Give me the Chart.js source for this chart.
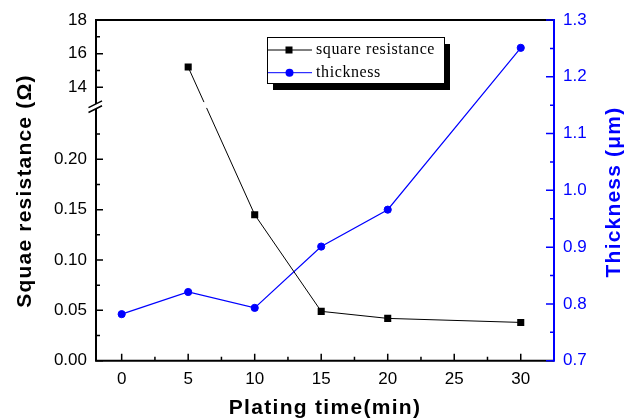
<!DOCTYPE html>
<html>
<head>
<meta charset="utf-8">
<script src="https://cdn.jsdelivr.net/npm/chart.js@4.4.1/dist/chart.umd.min.js"></script>
<style>
  html, body { margin: 0; padding: 0; background: #ffffff; }
  canvas { display: block; }
</style>
</head>
<body>
<canvas id="c" width="635" height="419"></canvas>
<script>
// ---------------- data ----------------
const timeMin = [0, 5, 10, 15, 20, 30];
const squareResistance = [null, 15.2, 0.145, 0.049, 0.042, 0.038];
const thickness = [0.782, 0.821, 0.793, 0.901, 0.966, 1.251];

const seriesLabels = ['square resistance', 'thickness'];
const xTitle = 'Plating time(min)';
const yTitle = 'Squae resistance (\u03A9)';
const y2Title = 'Thickness (\u03BCm)';

const xMajor = [0, 5, 10, 15, 20, 25, 30];
const xMinor = [2.5, 7.5, 12.5, 17.5, 22.5, 27.5];
const yMajorLow = [0, 0.05, 0.10, 0.15, 0.20];
const yMinorLow = [0.025, 0.075, 0.125, 0.175, 0.225];
const yMajorHigh = [14, 16, 18];
const yMinorHigh = [15, 17];
const y2Major = [0.7, 0.8, 0.9, 1.0, 1.1, 1.2, 1.3];
const y2Minor = [0.75, 0.85, 0.95, 1.05, 1.15, 1.25];

// broken axis: lower segment 0..0.25, upper segment 13..18
const lowSeg = [0, 0.25];
const highSeg = [13, 18];
const segFrac = [0.739, 0.7532]; // fraction of height where lower ends / upper begins

const BLUE = '#0000ff';

// ---------------- broken scale ----------------
function brokenFrac(v) {
  if (v <= lowSeg[1]) return (v - lowSeg[0]) / (lowSeg[1] - lowSeg[0]) * segFrac[0];
  if (v >= highSeg[0]) return segFrac[1] + (v - highSeg[0]) / (highSeg[1] - highSeg[0]) * (1 - segFrac[1]);
  return segFrac[0] + (v - lowSeg[1]) / (highSeg[0] - lowSeg[1]) * (segFrac[1] - segFrac[0]);
}
function brokenValue(f) {
  if (f <= segFrac[0]) return lowSeg[0] + f / segFrac[0] * (lowSeg[1] - lowSeg[0]);
  if (f >= segFrac[1]) return highSeg[0] + (f - segFrac[1]) / (1 - segFrac[1]) * (highSeg[1] - highSeg[0]);
  return lowSeg[1] + (f - segFrac[0]) / (segFrac[1] - segFrac[0]) * (highSeg[0] - lowSeg[1]);
}
class BrokenScale extends Chart.LinearScale {
  buildTicks() {
    return yMajorLow.concat(yMajorHigh).map(v => ({ value: v }));
  }
  getPixelForValue(value) {
    return this.bottom - brokenFrac(value) * (this.bottom - this.top);
  }
  getValueForPixel(pixel) {
    return brokenValue((this.bottom - pixel) / (this.bottom - this.top));
  }
}
BrokenScale.id = 'broken';
BrokenScale.defaults = Chart.LinearScale.defaults;
Chart.register(BrokenScale);

// ---------------- plugin: axes, ticks, break, titles, legend ----------------
function drawSpaced(ctx, text, spacing) {
  if ('letterSpacing' in ctx) ctx.letterSpacing = spacing + 'px';
  ctx.fillText(text, 0, 0);
  if ('letterSpacing' in ctx) ctx.letterSpacing = '0px';
}

const framePlugin = {
  id: 'frame',
  afterDatasetsDraw(chart) {
    const ctx = chart.ctx;
    const a = chart.chartArea;
    const sx = chart.scales.x, sy = chart.scales.y, sy2 = chart.scales.y2;
    const yHi = sy.getPixelForValue(highSeg[0]);
    const yLo = sy.getPixelForValue(lowSeg[1]);

    // gap in the line crossing the break
    const meta = chart.getDatasetMeta(0);
    const pts = meta.data;
    ctx.save();
    ctx.fillStyle = '#ffffff';
    for (let i = 0; i + 1 < pts.length; i++) {
      const p = pts[i], q = pts[i + 1];
      if ((p.y < yHi && q.y > yLo) || (q.y < yHi && p.y > yLo)) {
        const ym = (yHi + yLo) / 2;
        const t = (ym - p.y) / (q.y - p.y);
        const xm = p.x + t * (q.x - p.x);
        ctx.fillRect(xm - 5, yHi - 2, 10, (yLo - 1) - (yHi - 2));
      }
    }
    ctx.restore();

    ctx.save();
    // frame lines
    ctx.lineWidth = 2;
    ctx.strokeStyle = '#000';
    ctx.beginPath();
    ctx.moveTo(a.left - 1, a.top); ctx.lineTo(a.right, a.top);
    ctx.moveTo(a.left - 1, a.bottom); ctx.lineTo(a.right, a.bottom);
    // left axis with break
    ctx.moveTo(a.left, a.top); ctx.lineTo(a.left, yHi);
    ctx.moveTo(a.left, yLo); ctx.lineTo(a.left, a.bottom);
    ctx.stroke();
    // break slashes
    ctx.lineWidth = 1.5;
    ctx.beginPath();
    [yHi, yLo].forEach(yy => {
      ctx.moveTo(a.left - 7.5, yy + 3.6);
      ctx.lineTo(a.left + 6, yy - 3.2);
    });
    ctx.stroke();

    // ticks
    ctx.lineWidth = 1.5;
    ctx.beginPath();
    xMajor.forEach(v => { const x = sx.getPixelForValue(v); ctx.moveTo(x, a.bottom); ctx.lineTo(x, a.bottom - 7); });
    xMinor.forEach(v => { const x = sx.getPixelForValue(v); ctx.moveTo(x, a.bottom); ctx.lineTo(x, a.bottom - 4); });
    yMajorLow.concat(yMajorHigh).forEach(v => { const y = sy.getPixelForValue(v); ctx.moveTo(a.left, y); ctx.lineTo(a.left + 7, y); });
    yMinorLow.concat(yMinorHigh).forEach(v => { const y = sy.getPixelForValue(v); ctx.moveTo(a.left, y); ctx.lineTo(a.left + 4, y); });
    ctx.stroke();

    // right axis in blue
    ctx.strokeStyle = BLUE;
    ctx.lineWidth = 2;
    ctx.beginPath();
    ctx.moveTo(a.right, a.top - 1); ctx.lineTo(a.right, a.bottom + 1);
    ctx.stroke();
    ctx.lineWidth = 1.5;
    ctx.beginPath();
    y2Major.forEach(v => { const y = sy2.getPixelForValue(v); ctx.moveTo(a.right, y); ctx.lineTo(a.right - 8, y); });
    y2Minor.forEach(v => { const y = sy2.getPixelForValue(v); ctx.moveTo(a.right, y); ctx.lineTo(a.right - 4, y); });
    ctx.stroke();
    ctx.restore();
  },
  afterDraw(chart) {
    const ctx = chart.ctx;
    const a = chart.chartArea;
    ctx.save();
    // axis titles
    ctx.font = 'bold 21px "Liberation Sans", Arial, sans-serif';
    ctx.textAlign = 'center';
    ctx.textBaseline = 'alphabetic';
    ctx.fillStyle = '#000';
    ctx.save();
    ctx.translate((a.left + a.right) / 2, 413.5);
    drawSpaced(ctx, xTitle, 1.3);
    ctx.restore();
    ctx.save();
    ctx.translate(31, 191);
    ctx.rotate(-Math.PI / 2);
    drawSpaced(ctx, yTitle, 1.2);
    ctx.restore();
    ctx.save();
    ctx.fillStyle = BLUE;
    ctx.translate(620, 192);
    ctx.rotate(-Math.PI / 2);
    drawSpaced(ctx, y2Title, 1.2);
    ctx.restore();

    // legend box with shadow
    const bx = 267, by = 37, bw = 177, bh = 46;
    ctx.fillStyle = '#000';
    ctx.fillRect(bx + 6, by + 7, bw, bh);
    ctx.fillStyle = '#fff';
    ctx.fillRect(bx, by, bw, bh);
    ctx.strokeStyle = '#000';
    ctx.lineWidth = 1;
    ctx.strokeRect(bx + 0.5, by + 0.5, bw, bh);

    const ds = chart.data.datasets;
    ds.forEach((d, i) => {
      const yy = 50 + i * 22.7;
      ctx.strokeStyle = d.borderColor;
      ctx.lineWidth = 1;
      ctx.beginPath();
      ctx.moveTo(268, yy); ctx.lineTo(312, yy);
      ctx.stroke();
      ctx.fillStyle = d.borderColor;
      if (d.pointStyle === 'rect') {
        ctx.fillRect(289 - 3.5, yy - 3.5, 7, 7);
      } else {
        ctx.beginPath();
        ctx.arc(289.5, yy, 4, 0, Math.PI * 2);
        ctx.fill();
      }
      ctx.fillStyle = '#000';
      ctx.font = '16px "Liberation Serif", "Times New Roman", serif';
      ctx.textAlign = 'left';
      ctx.textBaseline = 'middle';
      ctx.save();
      ctx.translate(316, yy);
      drawSpaced(ctx, d.label, 0.6);
      ctx.restore();
    });
    ctx.restore();
  }
};

// ---------------- chart ----------------
const resPoints = timeMin.map((t, i) => ({ x: t, y: squareResistance[i] })).filter(p => p.y !== null);
const thkPoints = timeMin.map((t, i) => ({ x: t, y: thickness[i] }));

const tickFont = { family: '"Liberation Sans", Arial, sans-serif', size: 17 };

new Chart(document.getElementById('c'), {
  type: 'line',
  data: {
    datasets: [
      {
        label: seriesLabels[0],
        data: resPoints,
        yAxisID: 'y',
        borderColor: '#000000',
        backgroundColor: '#000000',
        borderWidth: 1,
        pointStyle: 'rect',
        pointRadius: 5,
        pointBorderWidth: 0,
        pointBackgroundColor: '#000000',
        tension: 0,
        fill: false
      },
      {
        label: seriesLabels[1],
        data: thkPoints,
        yAxisID: 'y2',
        borderColor: BLUE,
        backgroundColor: BLUE,
        borderWidth: 1.2,
        pointStyle: 'circle',
        pointRadius: 3.6,
        pointBorderWidth: 1,
        pointBackgroundColor: BLUE,
        pointBorderColor: BLUE,
        tension: 0,
        fill: false
      }
    ]
  },
  options: {
    responsive: false,
    animation: false,
    events: [],
    layout: { padding: { top: 20, left: 0, right: 0, bottom: 0 } },
    plugins: { legend: { display: false }, tooltip: { enabled: false } },
    scales: {
      x: {
        type: 'linear',
        min: -1.93,
        max: 32.5,
        grid: { display: false, drawTicks: false },
        border: { display: false },
        afterBuildTicks: ax => { ax.ticks = xMajor.map(v => ({ value: v })); },
        afterFit: s => { s.height = 58.3; },
        ticks: { font: tickFont, color: '#000', padding: 8, autoSkip: false, maxRotation: 0,
                 callback: v => String(v) }
      },
      y: {
        type: 'broken',
        position: 'left',
        min: 0,
        max: 18,
        grid: { display: false, drawTicks: false },
        border: { display: false },
        afterFit: s => { s.width = 96; },
        ticks: { font: tickFont, color: '#000', padding: 9, autoSkip: false,
                 callback: v => (v >= 1 ? String(v) : Number(v).toFixed(2)) }
      },
      y2: {
        type: 'linear',
        position: 'right',
        min: 0.7,
        max: 1.3,
        grid: { display: false, drawTicks: false },
        border: { display: false },
        afterBuildTicks: ax => { ax.ticks = y2Major.map(v => ({ value: v })); },
        afterFit: s => { s.width = 81; },
        ticks: { font: tickFont, color: BLUE, padding: 9, autoSkip: false,
                 callback: v => Number(v).toFixed(1) }
      }
    }
  },
  plugins: [framePlugin]
});
</script>
</body>
</html>
